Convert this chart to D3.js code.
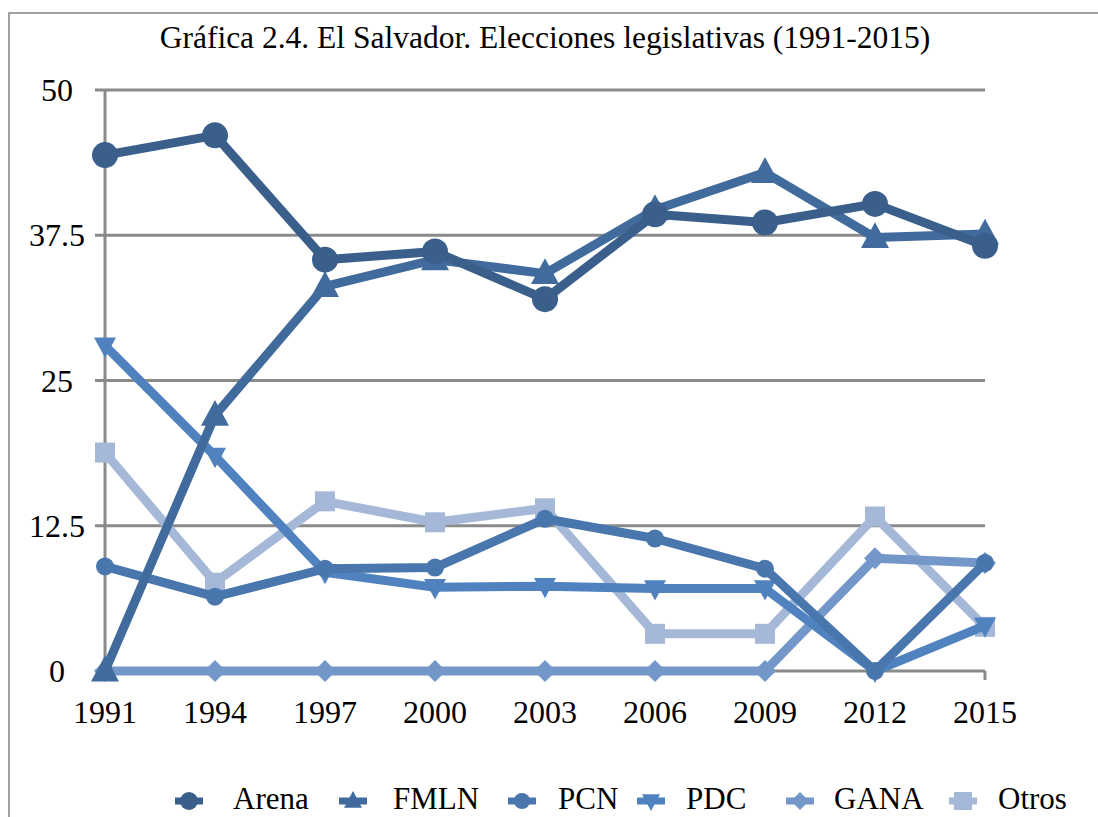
<!DOCTYPE html>
<html><head><meta charset="utf-8">
<script src="https://cdn.jsdelivr.net/npm/d3@7"></script>
<style>body{margin:0;background:#fff}svg{display:block}text{font-family:"Liberation Serif","Times New Roman",serif}</style>
</head><body><svg id="c" width="1098" height="817"></svg>
<script>
const years = ["1991","1994","1997","2000","2003","2006","2009","2012","2015"];
const yTicks = [0, 12.5, 25, 37.5, 50];
const arena = [44.4, 46.1, 35.4, 36.1, 32.0, 39.3, 38.6, 40.2, 36.6];
const fmln  = [0, 22.0, 33.1, 35.4, 34.2, 39.7, 42.9, 37.3, 37.6];
const pcn   = [9.0, 6.4, 8.8, 8.9, 13.1, 11.4, 8.8, 0, 9.3];
const pdc   = [28.0, 18.5, 8.5, 7.2, 7.3, 7.1, 7.1, 0, 3.9];
const gana  = [0, 0, 0, 0, 0, 0, 0, 9.7, 9.3];
const otros = [18.8, 7.6, 14.6, 12.8, 14.0, 3.2, 3.2, 13.3, 3.8];
const seriesNames = ["Arena","FMLN","PCN","PDC","GANA","Otros"];
const title = "Gráfica 2.4. El Salvador. Elecciones legislativas (1991-2015)";

const series = [
  {name:"Arena", values:arena, color:"#3a5f8b", shape:"circle", size:13},
  {name:"FMLN", values:fmln, color:"#416b9d", shape:"triUp", size:14},
  {name:"PCN", values:pcn, color:"#4876ad", shape:"circle", size:9},
  {name:"PDC", values:pdc, color:"#5082bf", shape:"triDown", size:11},
  {name:"GANA", values:gana, color:"#7397c8", shape:"diamond", size:11},
  {name:"Otros", values:otros, color:"#a5b8d8", shape:"square", size:10}
];

const svg = d3.select("#c");
const x = d3.scalePoint().domain(years).range([105, 985]);
const y = d3.scaleLinear().domain([0, 50]).range([671, 90]);
const grey = "#8a8a8a";

// frame
svg.append("rect").attr("x",9).attr("y",13).attr("width",1200).attr("height",900)
  .attr("fill","none").attr("stroke","#a0a0a0").attr("stroke-width",2);

svg.append("text").attr("x",545).attr("y",48).attr("text-anchor","middle")
  .attr("font-size",31.5).text(title);

// gridlines
svg.append("g").selectAll("line").data(yTicks.filter(d=>d>0)).join("line")
  .attr("x1",95).attr("x2",985).attr("y1",d=>y(d)).attr("y2",d=>y(d))
  .attr("stroke",grey).attr("stroke-width",3);
// axes
svg.append("line").attr("x1",105).attr("x2",105).attr("y1",y(50)).attr("y2",y(0))
  .attr("stroke",grey).attr("stroke-width",3);
svg.append("line").attr("x1",95).attr("x2",985).attr("y1",y(0)).attr("y2",y(0))
  .attr("stroke",grey).attr("stroke-width",3);
svg.append("line").attr("x1",985).attr("x2",985).attr("y1",y(0)).attr("y2",y(0)+9)
  .attr("stroke",grey).attr("stroke-width",3);

svg.append("g").selectAll("text").data(yTicks).join("text")
  .attr("x",57).attr("y",d=>y(d)+11).attr("text-anchor","middle")
  .attr("font-size",32).text(d=>d);
svg.append("g").selectAll("text").data(years).join("text")
  .attr("x",d=>x(d)).attr("y",723).attr("text-anchor","middle")
  .attr("font-size",32).text(d=>d);

function marker(g, shape, s, color){
  if(shape==="circle") g.append("circle").attr("r",s).attr("fill",color);
  else if(shape==="square") g.append("rect").attr("x",-s).attr("y",-s).attr("width",2*s).attr("height",2*s).attr("fill",color);
  else if(shape==="diamond") g.append("path").attr("d",`M0,${-s}L${s},0L0,${s}L${-s},0Z`).attr("fill",color);
  else if(shape==="triUp") g.append("path").attr("d",`M0,${-s*1.1}L${s},${s*0.75}L${-s},${s*0.75}Z`).attr("fill",color);
  else if(shape==="triDown") g.append("path").attr("d",`M0,${s*1.1}L${s},${-s*0.75}L${-s},${-s*0.75}Z`).attr("fill",color);
}

const line = d3.line().x((d,i)=>x(years[i])).y(d=>y(d));
const plot = svg.append("g");
series.slice().reverse().forEach(s=>{
  const g = plot.append("g");
  g.append("path").attr("d",line(s.values)).attr("fill","none")
    .attr("stroke",s.color).attr("stroke-width",9).attr("stroke-linejoin","round");
  s.values.forEach((v,i)=>{
    const m = g.append("g").attr("transform",`translate(${x(years[i])},${y(v)})`);
    marker(m, s.shape, s.size, s.color);
  });
});

// legend
const legMarkX = [189, 353, 522, 651, 800, 963];
const legTextX = [233, 393, 558, 686, 834, 998];
const leg = svg.append("g");
series.forEach((s,i)=>{
  const g = leg.append("g").attr("transform",`translate(${legMarkX[i]},801)`);
  g.append("line").attr("x1",-14).attr("x2",14).attr("stroke",s.color).attr("stroke-width",7);
  marker(g, s.shape, Math.min(s.size,10)*0.9, s.color);
  leg.append("text").attr("x",legTextX[i]).attr("y",809).attr("font-size",31).text(s.name);
});
</script></body></html>
